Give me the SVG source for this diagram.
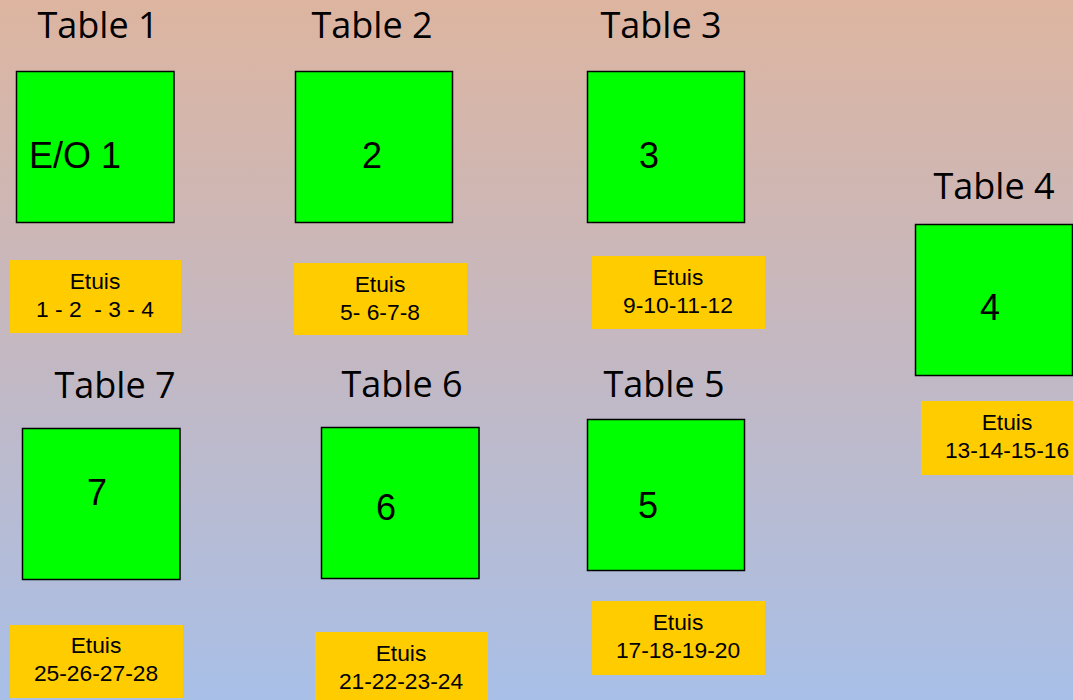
<svg xmlns="http://www.w3.org/2000/svg" width="1073" height="700" viewBox="0 0 1073 700">
<defs>
<linearGradient id="bg" x1="0" y1="0" x2="0" y2="1">
<stop offset="0" stop-color="#DDB5A0"/>
<stop offset="0.5" stop-color="#C4B8C2"/>
<stop offset="1" stop-color="#A8BFE7"/>
</linearGradient>
<style>
.tbl{fill:#00FF00;stroke:#000;stroke-width:1.5}
.et{fill:#FFCC00}
.title{font-family:"Open Sans",sans-serif;font-size:36px;fill:#000;text-anchor:middle}
.num{font-family:"Liberation Sans",Arial,sans-serif;font-size:36px;fill:#000;text-anchor:middle}
.lab{font-family:"Liberation Sans",Arial,sans-serif;font-size:22.8px;fill:#000;text-anchor:middle;white-space:pre}
</style>
</defs>
<rect width="1073" height="700" fill="url(#bg)"/>
<g id="table1">
<text class="title" x="98" y="38">Table 1</text>
<rect class="tbl" x="16.5" y="71.5" width="157.5" height="151"/>
<text class="num" x="29" y="168" style="text-anchor:start">E/O 1</text>
</g>
<g id="table2">
<text class="title" x="372" y="38">Table 2</text>
<rect class="tbl" x="295.5" y="71.5" width="157" height="151"/>
<text class="num" x="372" y="168">2</text>
</g>
<g id="table3">
<text class="title" x="661" y="38">Table 3</text>
<rect class="tbl" x="587.5" y="71.5" width="157" height="151"/>
<text class="num" x="649" y="168">3</text>
</g>
<g id="table4">
<text class="title" x="994" y="199">Table 4</text>
<rect class="tbl" x="915.5" y="224.5" width="157" height="151"/>
<text class="num" x="990" y="320">4</text>
</g>
<g id="table5">
<text class="title" x="664" y="397">Table 5</text>
<rect class="tbl" x="587.5" y="419.5" width="157" height="151"/>
<text class="num" x="648" y="518">5</text>
</g>
<g id="table6">
<text class="title" x="402" y="397">Table 6</text>
<rect class="tbl" x="321.5" y="427.5" width="157.5" height="151"/>
<text class="num" x="386" y="520">6</text>
</g>
<g id="table7">
<text class="title" x="115" y="398">Table 7</text>
<rect class="tbl" x="22.5" y="428.5" width="157.5" height="151"/>
<text class="num" x="97" y="505">7</text>
</g>
<g id="etuis1">
<rect class="et" x="10" y="260" width="171" height="73"/>
<text class="lab" x="95" y="289">Etuis</text>
<text class="lab" x="95" y="317" xml:space="preserve">1 - 2  - 3 - 4</text>
</g>
<g id="etuis2">
<rect class="et" x="294" y="263" width="173" height="72"/>
<text class="lab" x="380" y="292">Etuis</text>
<text class="lab" x="380" y="320">5- 6-7-8</text>
</g>
<g id="etuis3">
<rect class="et" x="592" y="256" width="173" height="73"/>
<text class="lab" x="678" y="285">Etuis</text>
<text class="lab" x="678" y="313">9-10-11-12</text>
</g>
<g id="etuis4">
<rect class="et" x="921" y="401" width="152" height="74"/>
<text class="lab" x="1007" y="430">Etuis</text>
<text class="lab" x="1007" y="458">13-14-15-16</text>
</g>
<g id="etuis5">
<rect class="et" x="592" y="601" width="173" height="74"/>
<text class="lab" x="678" y="630">Etuis</text>
<text class="lab" x="678" y="658">17-18-19-20</text>
</g>
<g id="etuis6">
<rect class="et" x="315" y="632" width="173" height="68"/>
<text class="lab" x="401" y="661">Etuis</text>
<text class="lab" x="401" y="689">21-22-23-24</text>
</g>
<g id="etuis7">
<rect class="et" x="10" y="625" width="173" height="73"/>
<text class="lab" x="96" y="653">Etuis</text>
<text class="lab" x="96" y="681">25-26-27-28</text>
</g>
<g id="connectors"></g>
</svg>
